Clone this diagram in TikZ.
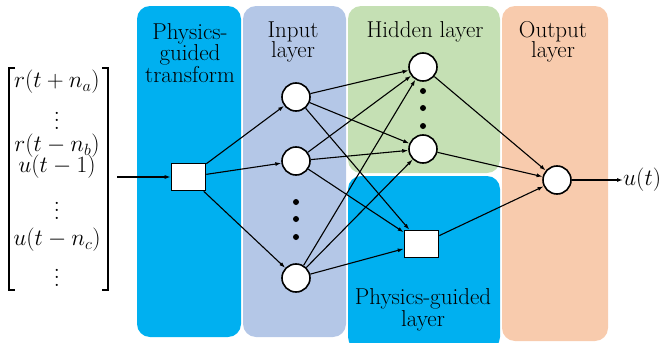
\documentclass[tikz,border=0pt]{standalone}
\usepackage{amsmath}
\usetikzlibrary{arrows.meta}
\definecolor{pblue}{HTML}{00B0F0}
\definecolor{lav}{HTML}{B4C7E7}
\definecolor{lgreen}{HTML}{C5E0B4}
\definecolor{peach}{HTML}{F8CBAD}
\tikzset{
  panel/.style={rounded corners=13pt, draw=none},
  neuron/.style={circle, draw, line width=1.6pt, fill=white, minimum size=28pt, inner sep=0pt},
  pbox/.style={rectangle, draw, line width=1.6pt, fill=white, minimum width=34pt, minimum height=27pt, inner sep=0pt},
  conn/.style={line width=1.1pt, -{Latex[length=6pt,width=4pt]}},
  dotn/.style={circle, fill=black, inner sep=0pt, minimum size=6pt},
  lbl/.style={align=center, font=\fontsize{23}{20.5}\selectfont, inner sep=0pt},
  vrow/.style={inner sep=0pt, font=\fontsize{24}{24}\selectfont},
  vdotrow/.style={inner sep=0pt, font=\fontsize{12}{12}\selectfont},
  brk/.style={line width=1.1pt}
}
\newcommand{\bigvd}{\scalebox{1.85}{$\vdots$}}
\newcommand{\vm}[1]{\scalebox{0.94}{$#1$}}
\begin{document}
\begin{tikzpicture}[x=1pt,y=-1pt]
\useasboundingbox (0,0) rectangle (662,343);
% panels
\fill[panel, pblue] (137,6) rectangle (241,337);
\fill[panel, lav] (243,6) rectangle (346,337);
\fill[panel, lgreen] (348,6) rectangle (500,173);
\fill[panel, pblue] (348,176) rectangle (500,350);
\fill[panel, peach] (502,6) rectangle (608,341);
% labels
\node[lbl] (tl) at (190,53) {Physics-\\guided\\transform};
\node[lbl] (il) at (293,42) {Input\\layer};
\node[lbl] (hl) at (425,32) {Hidden layer};
\node[lbl] (ol) at (553,42) {Output\\layer};
\node[lbl] (pl) at (423,310) {Physics-guided\\layer};
% input vector
\node[vrow] (v1) at (57,82) {\vm{r(t+n_a)}};
\node[vdotrow] (v2) at (57,115) {\bigvd};
\node[vrow] (v3) at (57,146) {\vm{r(t-n_b)}};
\node[vrow] (v4) at (57,167) {\vm{u(t-1)}};
\node[vdotrow] (v5) at (57,205) {\bigvd};
\node[vrow] (v6) at (57,240) {\vm{u(t-n_c)}};
\node[vdotrow] (v7) at (57,272) {\bigvd};
\draw[brk] (15,68) -- (9,68) -- (9,290) -- (15,290);
\draw[brk] (102,68) -- (108,68) -- (108,290) -- (102,290);
\coordinate (vin) at (117,177);
% nodes
\node[pbox] (tb) at (188.5,177) {};
\node[neuron] (i1) at (296,97) {};
\node[neuron] (i2) at (296,161) {};
\node[neuron] (i3) at (296,278) {};
\node[dotn] (id1) at (296,202) {};
\node[dotn] (id2) at (296,219) {};
\node[dotn] (id3) at (296,237) {};
\node[neuron] (h1) at (423,67) {};
\node[neuron] (h2) at (423,149) {};
\node[dotn] (hd1) at (423,91) {};
\node[dotn] (hd2) at (423,108) {};
\node[dotn] (hd3) at (423,126) {};
\node[pbox] (pb) at (421.5,244) {};
\node[neuron] (o) at (557,180) {};
\node[inner sep=0pt, anchor=west, font=\fontsize{24}{24}\selectfont] (ut) at (623,180) {\vm{u(t)}};
% connectors
\draw[conn] (vin) -- (tb);
\foreach \i in {i1,i2,i3} {
  \draw[conn] (tb) -- (\i);
  \draw[conn] (\i) -- (h1);
  \draw[conn] (\i) -- (h2);
  \draw[conn] (\i) -- (pb);
}
\draw[conn] (h1) -- (o);
\draw[conn] (h2) -- (o);
\draw[conn] (pb) -- (o);
\draw[conn] (o) -- (ut);
\end{tikzpicture}
\end{document}
